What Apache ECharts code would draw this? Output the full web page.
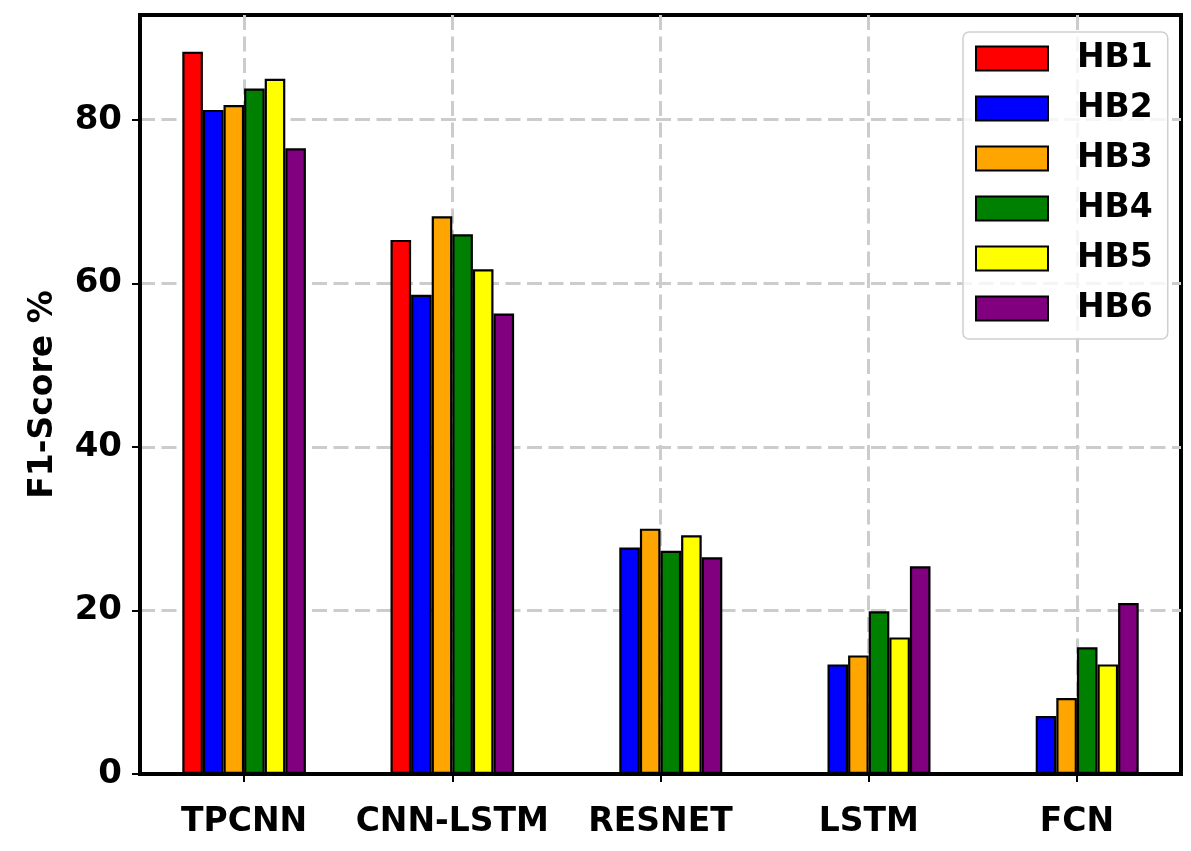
<!DOCTYPE html>
<html>
<head>
<meta charset="utf-8">
<script src="https://cdn.jsdelivr.net/npm/echarts@6/dist/echarts.min.js"></script>
<style>
html,body{margin:0;padding:0;background:#fff;}
#chart{width:1191px;height:851px;}
</style>
</head>
<body>
<div id="chart"></div>
<script>
const categories = ['TPCNN', 'CNN-LSTM', 'RESNET', 'LSTM', 'FCN'];
const seriesNames = ['HB1', 'HB2', 'HB3', 'HB4', 'HB5', 'HB6'];
const hb1 = [88.3, 65.3, 0, 0, 0];
const hb2 = [81.2, 58.6, 27.7, 13.4, 7.1];
const hb3 = [81.8, 68.2, 30.0, 14.5, 9.3];
const hb4 = [83.8, 66.0, 27.3, 19.9, 15.5];
const hb5 = [85.0, 61.7, 29.2, 16.7, 13.4];
const hb6 = [76.5, 56.3, 26.5, 25.4, 20.9];
const yTicks = [0, 20, 40, 60, 80];
const colors = ['#ff0000', '#0000ff', '#ffa500', '#008000', '#ffff00', '#800080'];
const allData = [hb1, hb2, hb3, hb4, hb5, hb6];

const FONT = 'DejaVu Sans';
const chart = echarts.init(document.getElementById('chart'), null, {renderer: 'canvas'});
const gridDash = {color: '#cccccc', width: 3, type: [15, 6.5]};

chart.setOption({
  animation: false,
  backgroundColor: '#ffffff',
  grid: {
    left: 140, top: 15, right: 10, bottom: 77,
    show: true, borderColor: '#000', borderWidth: 4, backgroundColor: 'transparent'
  },
  legend: {
    orient: 'vertical',
    left: 963, top: 32,
    itemWidth: 72, itemHeight: 24, itemGap: 17,
    padding: [10, 15, 14, 12],
    backgroundColor: 'rgba(255,255,255,0.8)',
    borderColor: '#d0d0d0', borderWidth: 1.5, borderRadius: 6,
    icon: 'rect',
    textStyle: {fontFamily: FONT, fontWeight: 'bold', fontSize: 33, color: '#000', padding: [0, 0, 0, 24]},
    data: seriesNames
  },
  xAxis: {
    type: 'category',
    data: categories,
    axisLine: {show: true, lineStyle: {color: '#000', width: 4}},
    axisTick: {show: true, alignWithLabel: true, length: 8, lineStyle: {color: '#000', width: 2}},
    axisLabel: {fontFamily: FONT, fontWeight: 'bold', fontSize: 33, color: '#000', margin: 32, interval: 0},
    splitLine: {show: true, alignWithLabel: true, interval: 0, lineStyle: gridDash}
  },
  yAxis: {
    type: 'value',
    min: 0, max: 92.8, interval: 20,
    name: 'F1-Score %',
    nameLocation: 'middle',
    nameGap: 80,
    nameTextStyle: {fontFamily: FONT, fontWeight: 'bold', fontSize: 33, color: '#000'},
    axisLine: {show: true, lineStyle: {color: '#000', width: 4}},
    axisTick: {show: true, length: 8, customValues: yTicks, lineStyle: {color: '#000', width: 2}},
    axisLabel: {fontFamily: FONT, fontWeight: 'bold', fontSize: 34, color: '#000', margin: 18, customValues: yTicks},
    splitLine: {show: true, lineStyle: gridDash}
  },
  series: seriesNames.map((name, i) => ({
    name: name,
    type: 'bar',
    data: allData[i],
    barWidth: 20.6,
    barGap: '0%',
    itemStyle: {color: colors[i], borderColor: '#000', borderWidth: 2.2}
  }))
});
</script>
</body>
</html>
